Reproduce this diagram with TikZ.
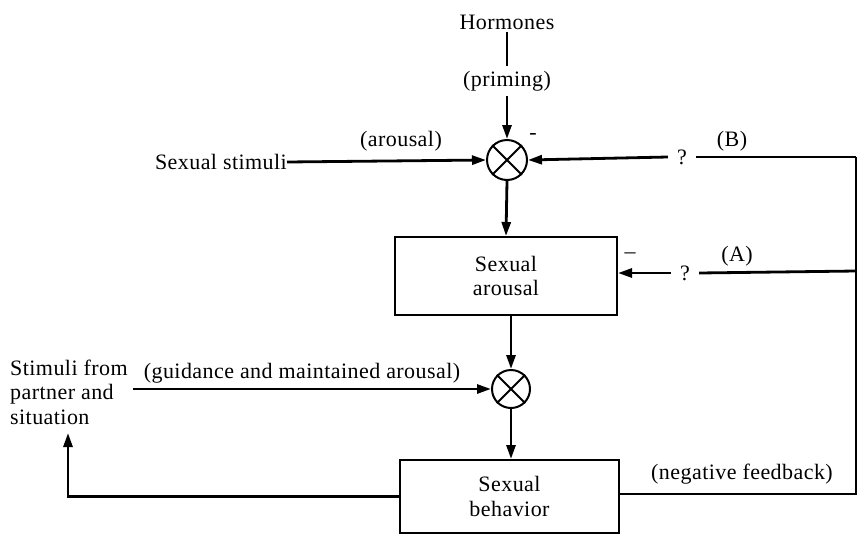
\documentclass[tikz,border=0pt]{standalone}
\usepackage{fontspec}
\setmainfont{Liberation Serif}[LetterSpace=2]
\usetikzlibrary{arrows.meta}
\begin{document}
\begin{tikzpicture}[x=1pt,y=-1pt,
  every node/.style={font=\fontsize{22}{24.5}\selectfont},
  lbl/.style={inner sep=2pt},
  qlbl/.style={inner sep=0pt, minimum width=28pt},
  blk/.style={draw, line width=2pt, minimum width=222pt, minimum height=78pt, align=center, inner sep=0pt},
  summer/.style={draw, circle, line width=2pt, minimum size=40pt, inner sep=0pt},
  conn/.style={line width=2.8pt},
  arr/.style={conn, -{Triangle[length=14pt,width=9pt]}}
]
\useasboundingbox (0,0) rectangle (862,536);

% nodes
\node[lbl] (horm) at (507,22) {Hormones};
\node[lbl, inner sep=5pt] (prim) at (507,81) {(priming)};
\node[summer] (c1) at (507,160) {};
\draw[line width=2pt] (c1.north west) -- (c1.south east) (c1.north east) -- (c1.south west);
\node[lbl, anchor=east, inner sep=0pt] (sstim) at (287,162) {Sexual stimuli};
\node[lbl] (arl) at (401,141) {(arousal)};
\node[lbl, inner sep=0pt] (m1) at (533,136) {-};
\node[qlbl] (q1) at (682,157) {?};
\node[lbl] (lB) at (732,141) {(B)};
\coordinate (cB) at (856,157);

\node[blk] (box1) at (506,276) {Sexual\\arousal};
\node[lbl, inner sep=0pt] (m2) at (630,256) {--};
\node[qlbl] (q2) at (685,273) {?};
\node[lbl] (lA) at (737,256) {(A)};
\coordinate (cA) at (856,271);

\node[summer, minimum size=38pt] (c2) at (511,389) {};
\draw[line width=2pt] (c2.north west) -- (c2.south east) (c2.north east) -- (c2.south west);
\node[lbl, anchor=west, align=left, inner sep=0pt] (stim) at (10,392) {Stimuli from\\partner and\\situation};
\node[lbl] (gl) at (302,373) {(guidance and maintained arousal)};

\node[blk, minimum width=219pt, minimum height=73pt] (box2) at (509.5,496.5) {Sexual\\behavior};
\node[lbl] (nf) at (742,474) {(negative feedback)};
\coordinate (cN) at (856,494);
\coordinate (stip) at (68,433);

% connectors
\draw[conn] (horm.south) -- (prim.north);
\draw[arr] (prim.south) -- (c1.north);
\draw[arr] (sstim.east) -- (c1.west);
\draw[conn] (cB) -- (q1.east);
\draw[arr] (q1.west) -- (c1.east);
\draw[arr] (c1.south) -- (box1.north);
\draw[conn] (cA) -- (q2.east);
\draw[arr] (q2.west) -- (box1.east |- q2.west);
\draw[arr] (box1.south -| c2.north) -- (c2.north);
\draw[arr] (133,389) -- (c2.west);
\draw[arr] (c2.south) -- (box2.north -| c2.south);
\draw[conn] (box2.east |- cN) -- (cN) -- (cB);
\draw[arr] (box2.west) -| (stip);
\end{tikzpicture}
\end{document}
